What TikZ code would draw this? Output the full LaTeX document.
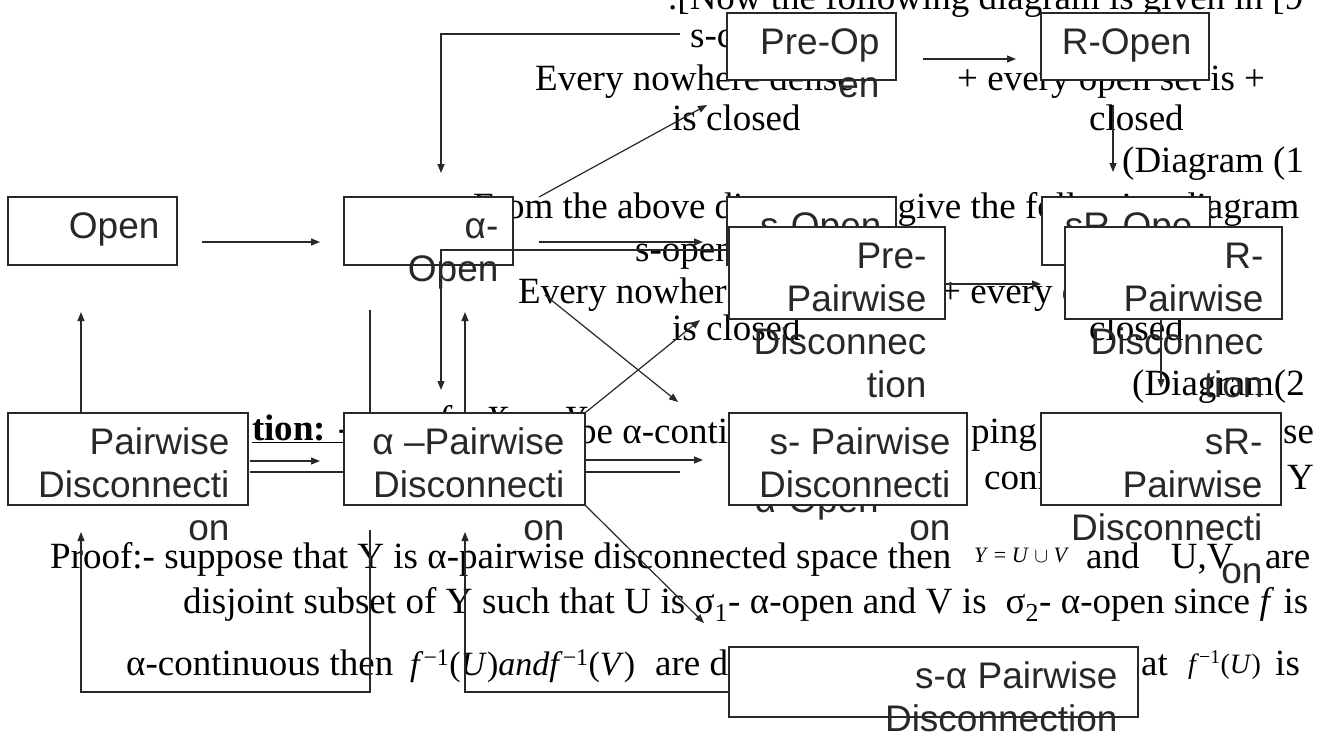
\documentclass[tikz,border=0pt]{standalone}
\usepackage{fontspec}
\setmainfont{Liberation Serif}
\setsansfont{Liberation Sans}
\usepackage{tikz}
\usetikzlibrary{fit}
\usetikzlibrary{arrows.meta}
\usepackage{xcolor}
\definecolor{InkA}{RGB}{40,40,40}
\newcommand{\FirstLn}{\rule{0pt}{28pt}}
\tikzstyle{PageText}=[font=\fontsize{37}{43}\selectfont,anchor=base west,inner sep=0pt]
\tikzstyle{BoxNode}=[draw=InkA,fill=white,line width=1.3pt,inner sep=0pt]
\tikzstyle{BoxText}=[font=\sffamily\fontsize{37}{43}\selectfont,text=InkA,align=right,anchor=north east,inner sep=0pt]
\tikzstyle{EdgeLine}=[InkA,line width=1.2pt]
\tikzstyle{EdgeArrow}=[InkA,line width=1.2pt,-{Triangle[length=9pt,width=7pt]}]

\begin{document}
\begin{tikzpicture}[x=1pt,y=-1pt]
        \fill[white](0,0)rectangle(1320,731);
        \useasboundingbox(0,0)rectangle(1320,731);
        \node[PageText](tNow)at(668,9){.[Now the following diagram is given in [9};
        \node[PageText](tSc)at(690,47){s-c};
        \node[PageText](tEveryA)at(535,90){Every nowhere dense};
        \node[PageText](tPlusA)at(957,90){+ every open set is +};
        \node[PageText](tClosedA)at(672,130){is closed};
        \node[PageText](tClosedB)at(1089,130){closed};
        \node[PageText](tDiagA)at(1122,172){(Diagram (1};
        \node[PageText](tFrom)at(473,218){From the above diagram we give the following diagram};
        \node[PageText](tSopen)at(635,261){s-open};
        \node[PageText](tEveryB)at(518,303){Every nowhere dense};
        \node[PageText](tPlusB)at(940,303){+ every open set is +};
        \node[PageText](tClosedC)at(672,340){is closed};
        \node[PageText](tClosedD)at(1089,340){closed};
        \node[PageText](tDiagB)at(1132,395){(Diagram(2};
        \node[PageText](tDef)at(252,440){\underline{\textbf{tion: -}}};
        \node[PageText](tMap)at(438,431){\textit{f} : \textit{X} → \textit{Y}};
        \node[PageText](tBe)at(578,443){be α-conti};
        \node[PageText](tPing)at(971,443){ping};
        \node[PageText](tSe)at(1283,443){se};
        \node[PageText](tConn)at(984,489){conn};
        \node[PageText](tY)at(1287,489){Y};
        \node[PageText](tProof)at(50,568){Proof:- suppose that Y is α-pairwise disconnected space then};
        \node[PageText,font=\fontsize{22}{26}\selectfont](tUnion)at(974,562){\textit{Y} = \textit{U} $\cup$ \textit{V}};
        \node[PageText](tAre)at(1086,568){\makebox[224pt][s]{and U,V are}};
        \node[PageText](tDisj)at(183,613){\makebox[1125pt][s]{disjoint subset of Y such that U is σ\textsubscript{1}- α-open and V is\ \ σ\textsubscript{2}- α-open since \textit{f} is}};
        \node[PageText](tCont)at(126,675){α-continuous then};
        \node[PageText,font=\fontsize{34}{40}\selectfont](tInv)at(410,675){\textit{f}\textsuperscript{−1}(\textit{U})\textit{andf}\textsuperscript{−1}(\textit{V})};
        \node[PageText](tAreDi)at(655,675){are di};
        \node[PageText](tAt)at(1141,675){at};
        \node[PageText,font=\fontsize{28}{32}\selectfont](tInvU)at(1188,673){\textit{f}\textsuperscript{−1}(\textit{U})};
        \node[PageText](tIs)at(1275,675){is};
        \coordinate(vlineA)at(370,310);
        \coordinate(vlineB)at(370,450);
        \draw[EdgeLine](vlineA)--(vlineB);
        \node[BoxNode,fit={(8,197)(177,265)}](open){};
        \node[BoxText](openT)at([xshift=-18pt,yshift=-14pt]open.north east){\FirstLn Open};
        \node[BoxNode,fit={(344,197)(513,265)}](aopen){};
        \node[BoxText](aopenT)at([xshift=-15pt,yshift=-14pt]aopen.north east){\FirstLn α-\\Open};
        \node[BoxNode,fit={(727,13)(896,80)}](preop){};
        \node[BoxText](preopT)at([xshift=-17pt,yshift=-14pt]preop.north east){\FirstLn Pre-Op\\en};
        \node[BoxNode,fit={(1041,13)(1209,80)}](ropen){};
        \node[BoxText](ropenT)at([xshift=-18pt,yshift=-14pt]ropen.north east){\FirstLn R-Open};
        \node[BoxNode,fit={(727,197)(896,265)}](sopen){};
        \node[BoxText](sopenT)at([xshift=-15pt,yshift=-14pt]sopen.north east){\FirstLn s-Open};
        \node[BoxNode,fit={(1042,197)(1210,265)}](sropen){};
        \node[BoxText](sropenT)at([xshift=-18pt,yshift=-14pt]sropen.north east){\FirstLn sR-Ope\\n};
        \node[BoxText,anchor=base east](saopenT)at(879,512){α-Open};
        \node[BoxNode,fit={(729,227)(945,319)}](prepw){};
        \node[BoxText](prepwT)at([xshift=-19pt,yshift=-14pt]prepw.north east){\FirstLn Pre-\\Pairwise\\Disconnec\\tion};
        \node[BoxNode,fit={(1065,227)(1282,319)}](rpw){};
        \node[BoxText](rpwT)at([xshift=-19pt,yshift=-14pt]rpw.north east){\FirstLn R-\\Pairwise\\Disconnec\\tion};
        \node[BoxNode,fit={(8,413)(248,505)}](pw){};
        \node[BoxText](pwT)at([xshift=-19pt,yshift=-14pt]pw.north east){\FirstLn Pairwise\\Disconnecti\\on};
        \node[BoxNode,fit={(344,413)(585,505)}](apw){};
        \node[BoxText](apwT)at([xshift=-21pt,yshift=-14pt]apw.north east){\FirstLn α –Pairwise\\Disconnecti\\on};
        \node[BoxNode,fit={(729,413)(967,505)}](spw){};
        \node[BoxText](spwT)at([xshift=-17pt,yshift=-14pt]spw.north east){\FirstLn s- Pairwise\\Disconnecti\\on};
        \node[BoxNode,fit={(1041,413)(1281,505)}](srpw){};
        \node[BoxText](srpwT)at([xshift=-19pt,yshift=-14pt]srpw.north east){\FirstLn sR-\\Pairwise\\Disconnecti\\on};
        \node[BoxNode,fit={(729,647)(1138,717)}](sapw){};
        \node[BoxText](sapwT)at([xshift=-21pt,yshift=-14pt]sapw.north east){\FirstLn s-α Pairwise\\Disconnection};
        \coordinate(preopA)at(680,34);
        \coordinate(preopB)at(441,34);
        \coordinate(aopenN)at(441,173);
        \coordinate(preopE)at(923,59);
        \coordinate(ropenW)at(1016,59);
        \coordinate(ropenS)at(1113,105);
        \coordinate(sropenN)at(1113,172);
        \coordinate(openE)at(202,242);
        \coordinate(aopenW)at(320,242);
        \coordinate(aopenE)at(539,242);
        \coordinate(sopenW)at(703,242);
        \coordinate(aopenNE)at(539,197);
        \coordinate(preopSW)at(707,105);
        \coordinate(sopenL)at(727,250);
        \coordinate(sopenBend)at(441,250);
        \coordinate(apwTop)at(441,390);
        \coordinate(pwN)at(81,413);
        \coordinate(openS)at(81,312);
        \coordinate(apwN)at(465,413);
        \coordinate(aopenS)at(465,312);
        \coordinate(loopA)at(370,530);
        \coordinate(loopB)at(370,692);
        \coordinate(loopC)at(81,692);
        \coordinate(pwS)at(81,532);
        \coordinate(sapwW)at(729,692);
        \coordinate(loopD)at(465,692);
        \coordinate(apwS)at(465,532);
        \coordinate(crossA)at(545,295);
        \coordinate(crossB)at(678,402);
        \coordinate(prepwSW)at(700,320);
        \coordinate(sapwNW)at(704,623);
        \coordinate(pwE1)at(250,461);
        \coordinate(apwW1)at(320,461);
        \coordinate(pwE2)at(250,472);
        \coordinate(apwW2)at(345,472);
        \coordinate(apwE1)at(585,460);
        \coordinate(spwW1)at(703,460);
        \coordinate(apwE2)at(585,472);
        \coordinate(spwW2)at(680,472);
        \coordinate(prepwE)at(946,284);
        \coordinate(rpwW)at(1041,284);
        \coordinate(rpwS)at(1161,320);
        \coordinate(srpwN)at(1161,388);
        \draw[EdgeArrow](preopA)--(preopB)--(aopenN);
        \draw[EdgeArrow](preopE)--(ropenW);
        \draw[EdgeArrow](ropenS)--(sropenN);
        \draw[EdgeArrow](openE)--(aopenW);
        \draw[EdgeArrow](aopenE)--(sopenW);
        \draw[EdgeArrow](aopenNE)--(preopSW);
        \draw[EdgeArrow](sopenL)--(sopenBend)--(apwTop);
        \draw[EdgeArrow](pwN)--(openS);
        \draw[EdgeArrow](apwN)--(aopenS);
        \draw[EdgeArrow](loopA)--(loopB)--(loopC)--(pwS);
        \draw[EdgeArrow](sapwW)--(loopD)--(apwS);
        \draw[EdgeArrow](crossA)--(crossB);
        \draw[EdgeArrow](apw.north east)--(prepwSW);
        \draw[EdgeArrow](apw.south east)--(sapwNW);
        \draw[EdgeArrow](pwE1)--(apwW1);
        \draw[EdgeLine](pwE2)--(apwW2);
        \draw[EdgeArrow](apwE1)--(spwW1);
        \draw[EdgeLine](apwE2)--(spwW2);
        \draw[EdgeArrow](prepwE)--(rpwW);
        \draw[EdgeArrow](rpwS)--(srpwN);
    \end{tikzpicture}
\end{document}
